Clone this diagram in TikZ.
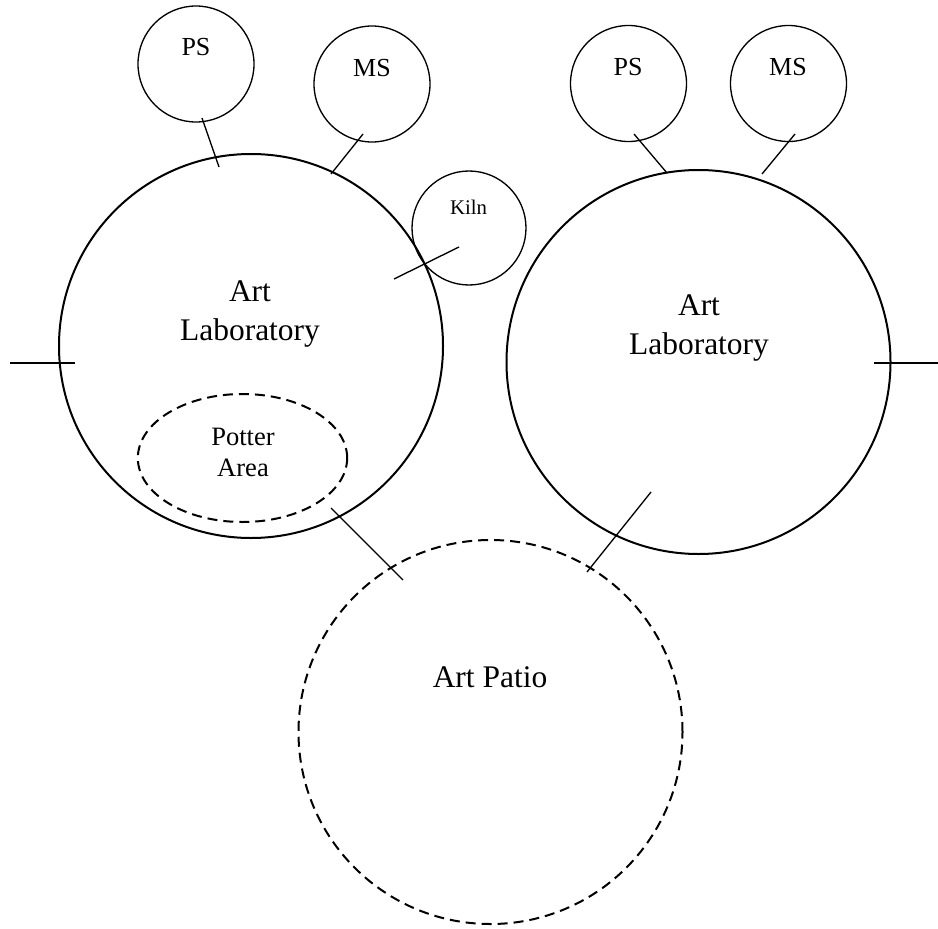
\documentclass[tikz,border=0pt]{standalone}
\usepackage{fontspec}
\setmainfont{Liberation Serif}
\usetikzlibrary{shapes.geometric}
\tikzset{
  bigroom/.style={circle, draw, line width=1.5pt, inner sep=0pt, minimum size=288pt},
  patio/.style={circle, draw, line width=1.5pt, dash pattern=on 7.5pt off 4.5pt, inner sep=0pt, minimum size=288pt},
  smallroom/.style={circle, draw, line width=1pt, inner sep=0pt, minimum size=87pt},
  potterarea/.style={ellipse, draw, line width=1.5pt, dash pattern=on 7.5pt off 4.5pt, inner sep=0pt, minimum width=157pt, minimum height=96pt},
  biglabel/.style={align=center, inner sep=0pt, font=\fontsize{23.6}{28.8}\selectfont},
  smalllabel/.style={inner sep=0pt, font=\fontsize{19.5}{23}\selectfont},
  link/.style={line width=1pt}
}
\begin{document}
\begin{tikzpicture}[x=0.75pt, y=-0.75pt]
\useasboundingbox (0,0) rectangle (938,928);
% rooms
\node[bigroom] (labL) at (251,346) {};
\node[bigroom] (labR) at (698.5,362) {};
\node[patio] (patio) at (490.5,732) {};
\node[smallroom] (psL) at (196,64) {};
\node[smallroom] (msL) at (372,84) {};
\node[smallroom, minimum size=85.5pt] (kiln) at (469,228) {};
\node[smallroom] (psR) at (628.5,83.5) {};
\node[smallroom] (msR) at (788.5,83.5) {};
\node[potterarea] (potter) at (242.5,458) {};
% labels
\node[biglabel] (labLtext) at (250,314) {Art\\Laboratory};
\node[biglabel] (labRtext) at (699,328) {Art\\Laboratory};
\node[biglabel] (patiotext) at (490,677) {Art Patio};
\node[smalllabel] (psLtext) at (196,47.5) {PS};
\node[smalllabel] (msLtext) at (372,68) {MS};
\node[smalllabel] (psRtext) at (628,67) {PS};
\node[smalllabel] (msRtext) at (788,67) {MS};
\node[inner sep=0pt, font=\fontsize{15.6}{18}\selectfont] (kilntext) at (468.5,207.5) {Kiln};
\node[align=center, inner sep=0pt, font=\fontsize{19.9}{23.25}\selectfont] (pottertext) at (243,452) {Potter\\Area};
% connector end points
\coordinate (c1a) at (202,118); \coordinate (c1b) at (219,167);
\coordinate (c2a) at (363,134); \coordinate (c2b) at (331,174);
\coordinate (c3a) at (459,247); \coordinate (c3b) at (394,279);
\coordinate (c4a) at (634,134); \coordinate (c4b) at (667,173);
\coordinate (c5a) at (795,134); \coordinate (c5b) at (762,174);
\coordinate (c6a) at (331,508); \coordinate (c6b) at (403,580);
\coordinate (c7a) at (651,492); \coordinate (c7b) at (587,572);
\coordinate (t1a) at (10,363); \coordinate (t1b) at (75,363);
\coordinate (t2a) at (874,363); \coordinate (t2b) at (938,363);
% connectors
\draw[link] (c1a) -- (c1b);
\draw[link] (c2a) -- (c2b);
\draw[link] (c3a) -- (c3b);
\draw[link] (c4a) -- (c4b);
\draw[link] (c5a) -- (c5b);
\draw[link] (c6a) -- (c6b);
\draw[link] (c7a) -- (c7b);
\draw[link] (t1a) -- (t1b);
\draw[link] (t2a) -- (t2b);
\end{tikzpicture}
\end{document}
